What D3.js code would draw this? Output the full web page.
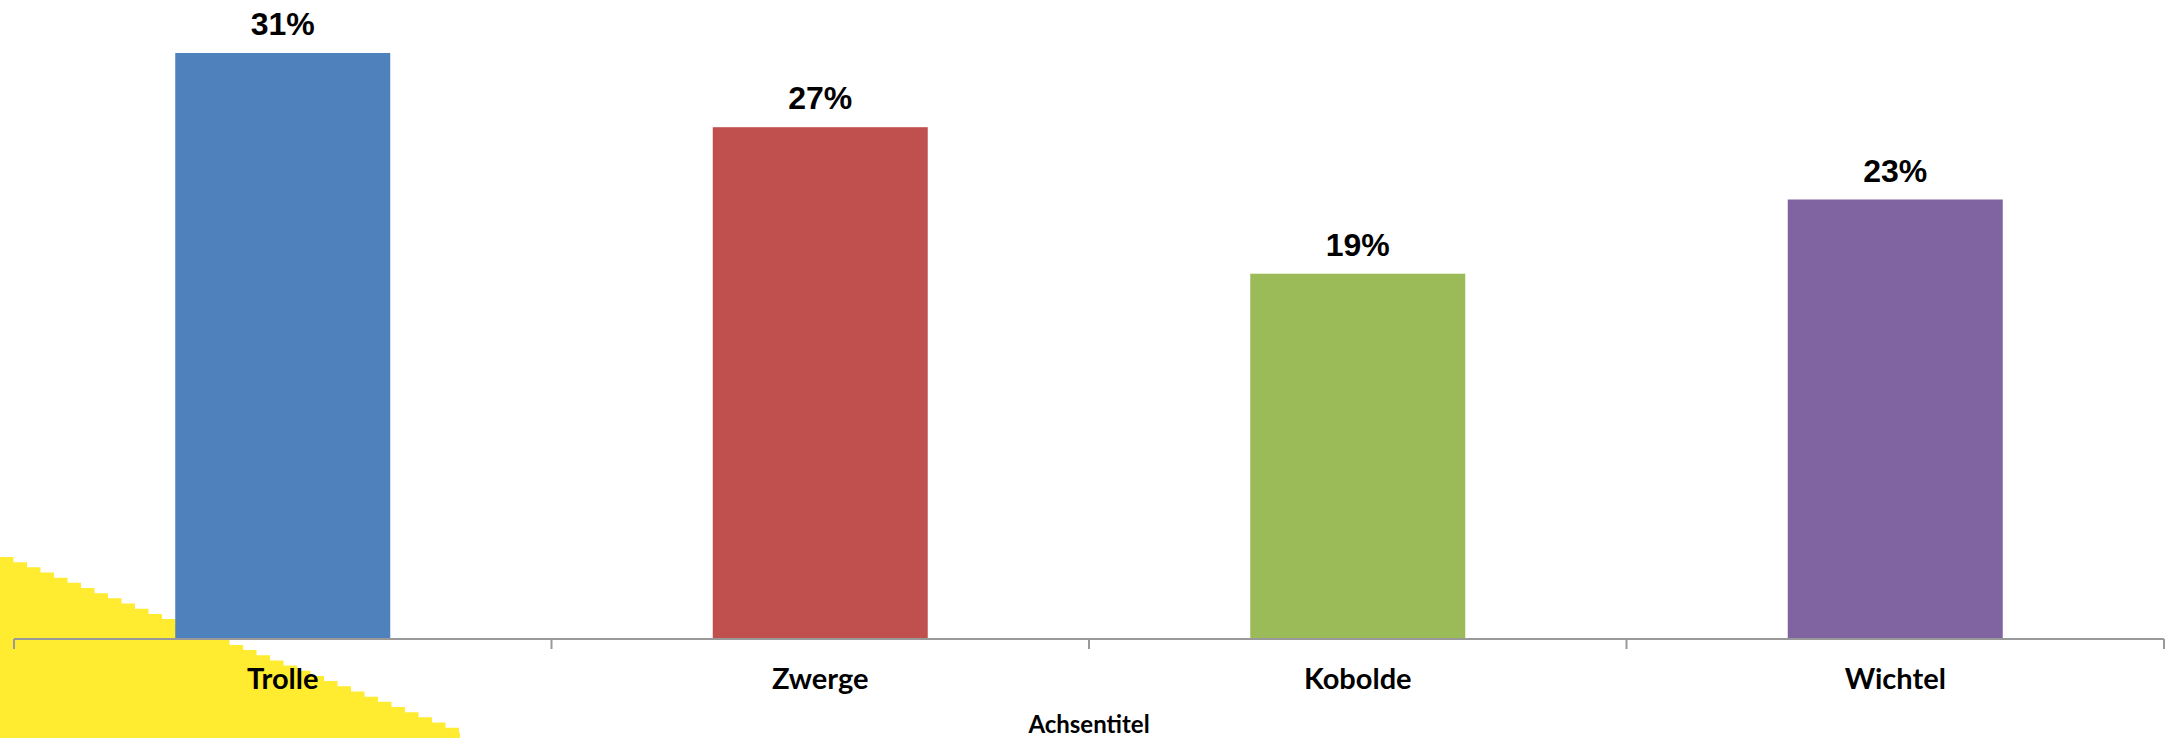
<!DOCTYPE html>
<html>
<head>
<meta charset="utf-8">
<script src="https://cdn.jsdelivr.net/npm/d3@7"></script>
<style>
html,body{margin:0;padding:0;background:#fff;}
svg{display:block;}
</style>
</head>
<body>
<svg id="chart" width="2175" height="738"></svg>
<script>
const categories = ["Trolle", "Zwerge", "Kobolde", "Wichtel"];
const values = [0.308, 0.269, 0.192, 0.231];
const valueLabels = ["31%", "27%", "19%", "23%"];
const colors = ["#4F81BD", "#C0504D", "#9BBB59", "#8064A2"];
const axisTitle = "Achsentitel";

const svg = d3.select("#chart");
const W = 2175, H = 738;
const left = 14, right = 2164, baseY = 639;

// decorative yellow staircase in lower-left corner
(function(){
  const x0 = 0, y0 = 557, x1 = 460, y1 = 738, stepW = 13.5;
  const n = Math.ceil((x1 - x0) / stepW);
  let d = `M0,${H} L0,${y0}`;
  for (let i = 0; i < n; i++) {
    const xa = x0 + i * stepW, xb = Math.min(x1, xa + stepW);
    const y = y0 + (y1 - y0) * (i / n);
    d += ` L${xb},${y}`;
    if (i < n - 1) d += ` L${xb},${y0 + (y1 - y0) * ((i + 1) / n)}`;
  }
  d += ` L${x1},${H} Z`;
  svg.append("path").attr("d", d).attr("fill", "#FFEB2F");
})();

const x = d3.scaleBand().domain(categories).range([left, right])
  .paddingInner(0.6).paddingOuter(0.3);
const y = d3.scaleLinear().domain([0, 0.33]).range([baseY, baseY - 0.33 * (586 / 0.308)]);

svg.append("g").selectAll("rect").data(categories).join("rect")
  .attr("x", d => x(d))
  .attr("y", (d, i) => y(values[i]))
  .attr("width", x.bandwidth())
  .attr("height", (d, i) => baseY - y(values[i]))
  .attr("fill", (d, i) => colors[i]);

svg.append("g").selectAll("text").data(categories).join("text")
  .attr("x", d => x(d) + x.bandwidth() / 2)
  .attr("y", (d, i) => y(values[i]) - 18)
  .attr("text-anchor", "middle")
  .attr("font-family", "'Liberation Sans', Arial, sans-serif")
  .attr("font-weight", "bold")
  .attr("font-size", 32)
  .attr("fill", "#000")
  .text((d, i) => valueLabels[i]);

// axis line and ticks at band boundaries
const step = x.step();
const tickPos = d3.range(categories.length + 1).map(i => left + i * step);
const ax = svg.append("g");
ax.append("line").attr("x1", left).attr("x2", right).attr("y1", baseY).attr("y2", baseY)
  .attr("stroke", "#999").attr("stroke-width", 2);
ax.selectAll("line.tick").data(tickPos).join("line").attr("class", "tick")
  .attr("x1", d => d).attr("x2", d => d).attr("y1", baseY).attr("y2", baseY + 10)
  .attr("stroke", "#999").attr("stroke-width", 2);

svg.append("g").selectAll("text").data(categories).join("text")
  .attr("x", d => x(d) + x.bandwidth() / 2)
  .attr("y", 689)
  .attr("text-anchor", "middle")
  .attr("font-family", "Lato, 'Open Sans', sans-serif")
  .attr("font-weight", "bold")
  .attr("font-size", 29)
  .attr("fill", "#000")
  .text(d => d);

svg.append("text")
  .attr("x", (left + right) / 2)
  .attr("y", 733)
  .attr("text-anchor", "middle")
  .attr("font-family", "Lato, 'Open Sans', sans-serif")
  .attr("font-weight", "bold")
  .attr("font-size", 24)
  .attr("fill", "#000")
  .text(axisTitle);
</script>
</body>
</html>
